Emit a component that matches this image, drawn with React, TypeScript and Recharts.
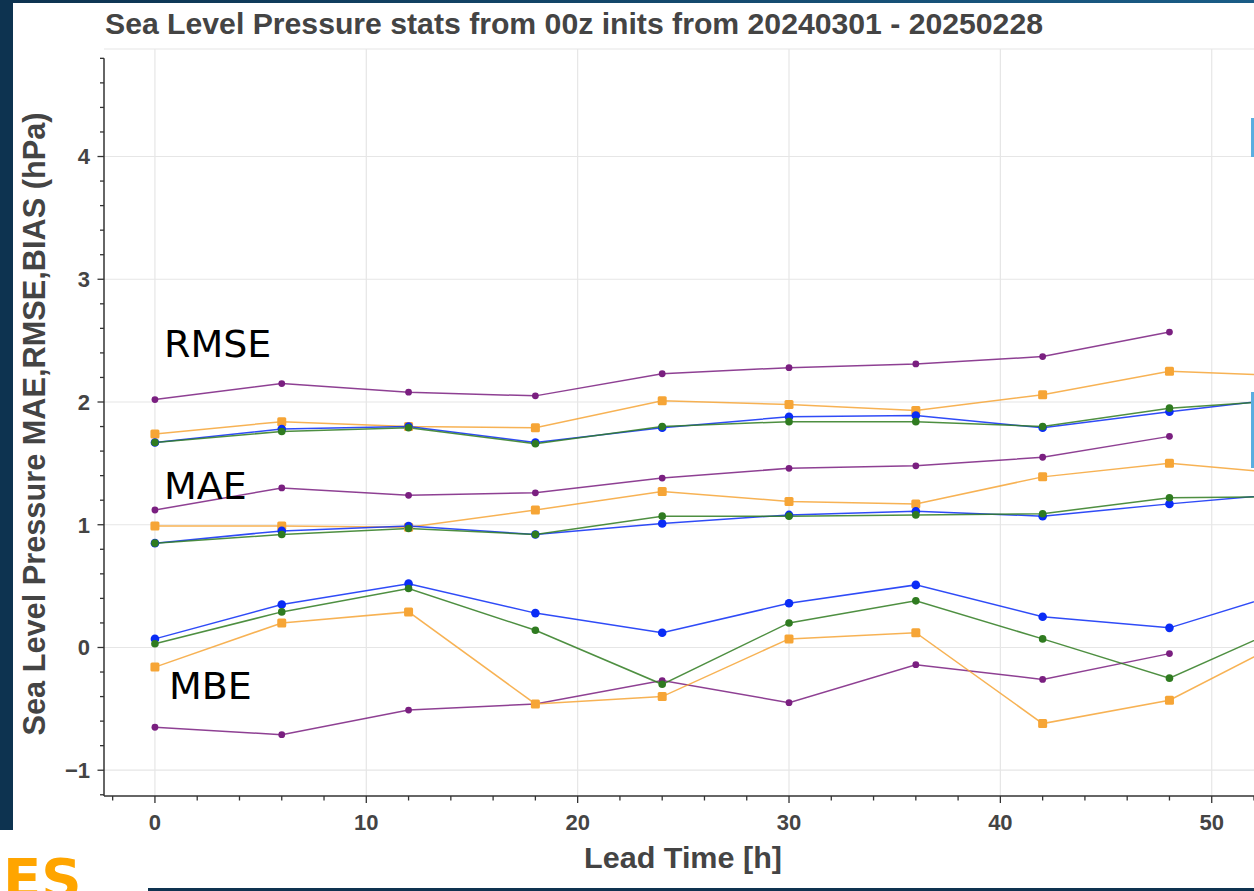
import React from 'react';
import { LineChart, XAxis, YAxis, Line, CartesianGrid, ReferenceLine } from 'recharts';

// lead times [h]; the last point sits past the right edge of the plot (clipped)
const leadTimes = [0, 6, 12, 18, 24, 30, 36, 42, 48, 54];

const purpleRmse = [2.02, 2.15, 2.08, 2.05, 2.23, 2.28, 2.31, 2.37, 2.57];
const orangeRmse = [1.74, 1.84, 1.8, 1.79, 2.01, 1.98, 1.93, 2.06, 2.25, 2.21];
const blueRmse = [1.67, 1.78, 1.8, 1.67, 1.79, 1.88, 1.89, 1.79, 1.92, 2.04];
const greenRmse = [1.67, 1.76, 1.79, 1.66, 1.8, 1.84, 1.84, 1.8, 1.95, 2.02];

const purpleMae = [1.12, 1.3, 1.24, 1.26, 1.38, 1.46, 1.48, 1.55, 1.72];
const orangeMae = [0.99, 0.99, 0.98, 1.12, 1.27, 1.19, 1.17, 1.39, 1.5, 1.41];
const blueMae = [0.85, 0.95, 0.99, 0.92, 1.01, 1.08, 1.11, 1.07, 1.17, 1.26];
const greenMae = [0.85, 0.92, 0.97, 0.92, 1.07, 1.07, 1.08, 1.09, 1.22, 1.23];

const purpleMbe = [-0.65, -0.71, -0.51, -0.46, -0.27, -0.45, -0.14, -0.26, -0.05];
const orangeMbe = [-0.16, 0.2, 0.29, -0.46, -0.4, 0.07, 0.12, -0.62, -0.43, 0.1];
const blueMbe = [0.07, 0.35, 0.52, 0.28, 0.12, 0.36, 0.51, 0.25, 0.16, 0.48];
const greenMbe = [0.03, 0.29, 0.48, 0.14, -0.3, 0.2, 0.38, 0.07, -0.25, 0.21];

const xTicks = [-2, 0, 2, 4, 6, 8, 10, 12, 14, 16, 18, 20, 22, 24, 26, 28, 30, 32, 34, 36, 38, 40, 42, 44, 46, 48, 50, 52];
const xMajor = [0, 10, 20, 30, 40, 50];
const yTicks = [-1.2, -1, -0.8, -0.6, -0.4, -0.2, 0, 0.2, 0.4, 0.6, 0.8, 1, 1.2, 1.4, 1.6, 1.8, 2, 2.2, 2.4, 2.6, 2.8, 3, 3.2, 3.4, 3.6, 3.8, 4, 4.2, 4.4, 4.6, 4.8];
const yMajor = [-1, 0, 1, 2, 3, 4];

const X_MIN = -2.41;
const X_MAX = 52;
const Y_MIN = -1.21;
const Y_MAX = 4.876;

const series = [
  { key: 'purpleRmse', values: purpleRmse, color: 'purple' },
  { key: 'purpleMae', values: purpleMae, color: 'purple' },
  { key: 'purpleMbe', values: purpleMbe, color: 'purple' },
  { key: 'orangeRmse', values: orangeRmse, color: 'orange' },
  { key: 'orangeMae', values: orangeMae, color: 'orange' },
  { key: 'orangeMbe', values: orangeMbe, color: 'orange' },
  { key: 'blueRmse', values: blueRmse, color: 'blue' },
  { key: 'blueMae', values: blueMae, color: 'blue' },
  { key: 'blueMbe', values: blueMbe, color: 'blue' },
  { key: 'greenRmse', values: greenRmse, color: 'green' },
  { key: 'greenMae', values: greenMae, color: 'green' },
  { key: 'greenMbe', values: greenMbe, color: 'green' },
];

const colors: Record<string, string> = {
  purple: '#7a1f80',
  orange: '#f6a536',
  blue: '#0a2cf6',
  green: '#2f7b20',
};

const data = leadTimes.map((t, i) => {
  const row: Record<string, number | undefined> = { t };
  series.forEach((s) => {
    row[s.key] = s.values[i];
  });
  return row;
});

const axisFont = '"Liberation Sans", Arial, Helvetica, sans-serif';
const textColor = '#444';

const fmt = (v: number) => (v < 0 ? `\u2212${Math.abs(v)}` : `${v}`);

const XTick = (props: any) => {
  const { x, y, payload } = props;
  const major = xMajor.includes(payload.value);
  return (
    <g>
      <line x1={x} x2={x} y1={y} y2={y + (major ? 7 : 4.5)} stroke="#333" strokeWidth={1.3} />
      {major && (
        <text x={x} y={y + 34} textAnchor="middle" fontFamily={axisFont} fontWeight="bold" fontSize={22} fill={textColor}>
          {fmt(payload.value)}
        </text>
      )}
    </g>
  );
};

const YTick = (props: any) => {
  const { x, y, payload } = props;
  const major = yMajor.includes(payload.value);
  return (
    <g>
      <line x1={x - (major ? 6.5 : 4)} x2={x} y1={y} y2={y} stroke="#333" strokeWidth={1.3} />
      {major && (
        <text x={x - 14} y={y} dy="0.36em" textAnchor="end" fontFamily={axisFont} fontWeight="bold" fontSize={22} fill={textColor}>
          {fmt(payload.value)}
        </text>
      )}
    </g>
  );
};

const makeDot = (name: string, color: string) => (props: any) => {
  const { cx, cy, index } = props;
  const k = `${name}-${index}`;
  if (cx == null || cy == null) return <g key={k} />;
  if (color === 'orange') {
    return <rect key={k} x={cx - 4.5} y={cy - 4.5} width={9} height={9} rx={1.5} fill={colors.orange} />;
  }
  const r = color === 'blue' ? 4.3 : color === 'green' ? 3.8 : 3.4;
  return <circle key={k} cx={cx} cy={cy} r={r} fill={colors[color]} />;
};

export default function App() {
  return (
    <div style={{ position: 'absolute', left: 0, top: 0, width: 1254, height: 891, background: '#fff', overflow: 'hidden' }}>
      <div style={{ position: 'absolute', left: 0, top: 0, width: 1254, height: 3, background: 'linear-gradient(90deg, #0d3350, #1a5c86)' }} />
      <div style={{ position: 'absolute', left: 0, top: 0, width: 13, height: 830, background: '#0d3350' }} />
      <div style={{ position: 'absolute', left: 148, top: 888, width: 1106, height: 3, background: '#0e3350' }} />

      <LineChart width={1254} height={891} data={data} margin={{ top: 49, right: 0, left: 0, bottom: 0 }}>
        <CartesianGrid
          stroke="#e6e6e6"
          strokeWidth={1.2}
          horizontalValues={[...yMajor, Y_MAX]}
          verticalValues={xMajor}
        />
        <XAxis
          dataKey="t"
          type="number"
          domain={[X_MIN, X_MAX]}
          allowDataOverflow
          ticks={xTicks}
          interval={0}
          tick={<XTick />}
          tickLine={false}
          tickSize={0}
          tickMargin={0}
          height={95}
          axisLine={{ stroke: '#333', strokeWidth: 1.5 }}
        />
        <YAxis
          type="number"
          domain={[Y_MIN, Y_MAX]}
          allowDataOverflow
          ticks={yTicks}
          interval={0}
          tick={<YTick />}
          tickLine={false}
          tickSize={0}
          tickMargin={0}
          width={104}
          axisLine={false}
        />
        <ReferenceLine
          segment={[{ x: X_MIN, y: Y_MIN }, { x: X_MIN, y: 4.8 }]}
          stroke="#333"
          strokeWidth={1.5}
        />
        {series.map((s) => (
          <Line
            key={s.key}
            dataKey={s.key}
            type="linear"
            stroke={colors[s.color]}
            strokeWidth={1.5}
            strokeOpacity={0.85}
            dot={makeDot(s.key, s.color)}
            activeDot={false}
            isAnimationActive={false}
          />
        ))}
      </LineChart>

      <svg width={1254} height={891} style={{ position: 'absolute', left: 0, top: 0, pointerEvents: 'none' }}>
        <text x={105} y={34} fontFamily={axisFont} fontWeight="bold" fontSize={29.5} fill={textColor} textLength={938} lengthAdjust="spacingAndGlyphs">
          Sea Level Pressure stats from 00z inits from 20240301 - 20250228
        </text>
        <text x={683} y={868} textAnchor="middle" fontFamily={axisFont} fontWeight="bold" fontSize={29} fill={textColor} textLength={198} lengthAdjust="spacingAndGlyphs">
          Lead Time [h]
        </text>
        <text
          x={45}
          y={424}
          textAnchor="middle"
          transform="rotate(-90 45 424)"
          fontFamily={axisFont}
          fontWeight="bold"
          fontSize={30.5}
          fill={textColor}
          textLength={623}
          lengthAdjust="spacingAndGlyphs"
        >
          Sea Level Pressure MAE,RMSE,BIAS (hPa)
        </text>
        <text x={164} y={357} fontFamily='"DejaVu Sans", sans-serif' fontSize={38} fill="#000">RMSE</text>
        <text x={164} y={499} fontFamily='"DejaVu Sans", sans-serif' fontSize={38} fill="#000">MAE</text>
        <text x={169} y={699} fontFamily='"DejaVu Sans", sans-serif' fontSize={38} fill="#000">MBE</text>
        <text x={3} y={898} fontFamily='"DejaVu Sans", sans-serif' fontWeight="bold" fontSize={56} fill="#ffa500">ES</text>
        <rect x={1251} y={118} width={3} height={39} fill="#5aaee0" />
        <rect x={1251} y={392} width={3} height={76} fill="#5aaee0" />
      </svg>
    </div>
  );
}
